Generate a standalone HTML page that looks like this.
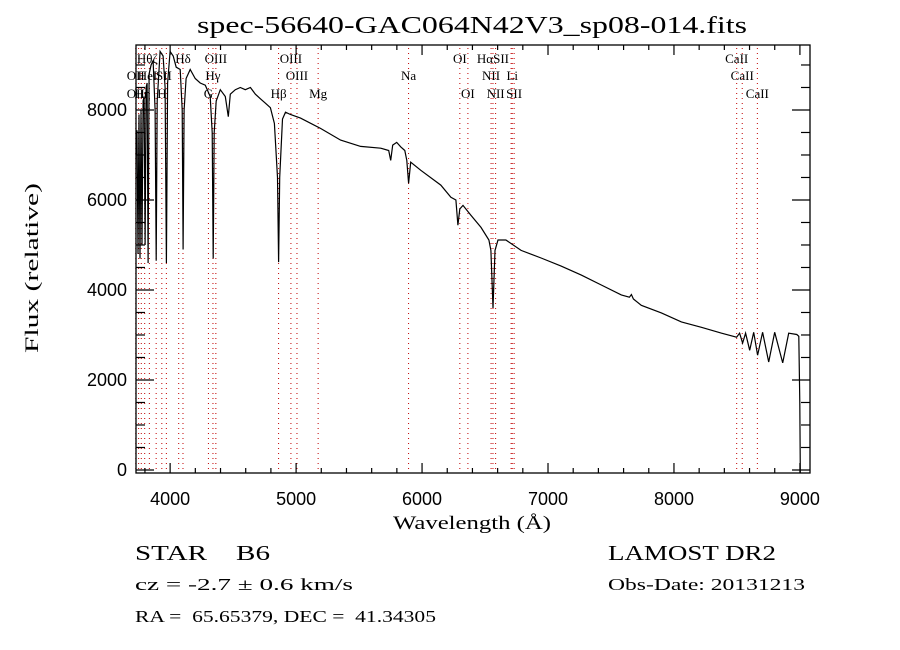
<!DOCTYPE html>
<html><head><meta charset="utf-8"><style>
html,body{margin:0;padding:0;background:#fff;}
svg{display:block;}
text{font-family:"Liberation Serif",serif;fill:#000;white-space:pre;}
.t{font-family:"Liberation Sans",sans-serif;}
</style></head><body>
<svg id="chart" width="900" height="650" viewBox="0 0 900 650" xmlns="http://www.w3.org/2000/svg" xml:space="preserve">
<rect x="0" y="0" width="900" height="650" fill="#fff"/>
<text x="472" y="33" font-size="24" text-anchor="middle" textLength="550" lengthAdjust="spacingAndGlyphs">spec-56640-GAC064N42V3_sp08-014.fits</text>
<g id="lines"></g>
<g id="ticks"></g>
<path id="spec" fill="none" stroke="#000" stroke-width="1.2"/>
<rect x="136" y="45" width="674" height="428" fill="none" stroke="#000" stroke-width="1.3"/>
<text transform="translate(38,268) rotate(-90)" font-size="19" text-anchor="middle" textLength="170" lengthAdjust="spacingAndGlyphs">Flux (relative)</text>
<text x="472" y="529" font-size="19" text-anchor="middle" textLength="158" lengthAdjust="spacingAndGlyphs">Wavelength (Å)</text>
<text x="135" y="560" font-size="21" textLength="135" lengthAdjust="spacingAndGlyphs">STAR    B6</text>
<text x="608" y="560" font-size="21" textLength="168" lengthAdjust="spacingAndGlyphs">LAMOST DR2</text>
<text x="135" y="590" font-size="17" textLength="218" lengthAdjust="spacingAndGlyphs">cz = -2.7 ± 0.6 km/s</text>
<text x="608" y="590" font-size="17" textLength="197" lengthAdjust="spacingAndGlyphs">Obs-Date: 20131213</text>
<text x="135" y="622" font-size="17" textLength="301" lengthAdjust="spacingAndGlyphs">RA =  65.65379, DEC =  41.34305</text>
</svg>
<script>
const wave = [3729,3737,3745,3753,3761,3769,3777,3785,3793,3801,3809,3817,3825,3833,3849,3865,3881,3889,3897,3920,3944,3960,3970,3980,4000,4024,4048,4080,4096,4103,4111,4127,4159,4199,4239,4279,4318,4334,4342,4350,4366,4398,4438,4462,4478,4517,4557,4597,4637,4677,4716,4756,4796,4828,4852,4861,4870,4892,4916,4955,5035,5194,5353,5512,5672,5735,5751,5767,5799,5831,5863,5879,5893,5910,5990,6149,6229,6269,6285,6300,6325,6388,6468,6531,6547,6563,6579,6603,6666,6786,6945,7104,7264,7423,7582,7646,7662,7678,7741,7900,8059,8218,8378,8497,8521,8545,8569,8601,8633,8664,8704,8752,8800,8863,8911,8975,8991,8999,9003];
const flux = [7000,7550,4800,7900,4700,8000,5000,8200,8300,5000,8500,8600,4600,8800,9000,9100,8000,4650,8200,9300,9200,8500,4600,8600,9300,9200,8950,8900,8000,4900,8000,8700,8900,8700,8600,8550,8300,7500,4700,7500,8200,8450,8300,7850,8350,8450,8500,8450,8500,8350,8250,8150,8050,7700,6500,4620,6500,7800,7950,7900,7820,7590,7330,7190,7150,7100,6880,7220,7280,7180,7100,6880,6370,6840,6660,6330,6060,6000,5440,5800,5880,5660,5390,5110,4880,3600,4880,5110,5110,4880,4710,4530,4330,4110,3890,3840,3900,3800,3660,3490,3290,3170,3040,2950,3040,2820,3040,2660,3060,2550,3060,2400,3060,2380,3040,3010,2970,1500,-60];
const lineWaves = [3727,3750,3771,3798,3835,3889,3934,3970,4068,4102,4304,4340,4363,4861,4959,5007,5175,5893,6300,6364,6548,6563,6584,6707,6716,6731,8498,8542,8662];
const labelText = ["Hθ","ζ","Hδ","OIII","OIII","OI","HαSII","CaII","OII","HeI","SII","Hγ","OIII","Na","NII","Li","CaII","OII","Hη","H","G","Hβ","Mg","OI","NII","SII","CaII"];
const labelWave = [3798,3880,4102,4363,4959,6300,6563,8498,3727,3820,3950,4340,5007,5893,6548,6716,8542,3727,3780,3935,4304,4861,5175,6364,6584,6731,8662];
const labelRow = [0,0,0,0,0,0,0,0,1,1,1,1,1,1,1,1,1,2,2,2,2,2,2,2,2,2,2];
const xTicks = [4000,5000,6000,7000,8000,9000];
const yTicks = [0,2000,4000,6000,8000];

const X0=136,X1=810,Y0=45,Y1=473;
const wMin=3729,wMax=9080,fMin=-67,fMax=9444;
const sx=w=>X0+(w-wMin)/(wMax-wMin)*(X1-X0);
const sy=f=>Y1-(f-fMin)/(fMax-fMin)*(Y1-Y0);
const NS="http://www.w3.org/2000/svg";
function mk(tag,attrs,parent){const e=document.createElementNS(NS,tag);for(const k in attrs)e.setAttribute(k,attrs[k]);parent.appendChild(e);return e;}

const lg=document.getElementById('lines');
lineWaves.forEach(w=>{
  const l=mk('line',{x1:sx(w),x2:sx(w),y1:Y0+3,y2:Y1,stroke:'#c00000','stroke-width':1,'stroke-dasharray':'1,4'},lg);
  
  
});
const rowY=[63,80,98];
labelText.forEach((t,i)=>{
  const e=mk('text',{x:sx(labelWave[i]),y:rowY[labelRow[i]],'font-size':13,'text-anchor':'middle'},lg);
  e.textContent=t;
  
  
});

let d='';
wave.forEach((w,i)=>{d+=(i?'L':'M')+sx(w).toFixed(1)+','+Math.min(Y1,Math.max(Y0,sy(flux[i]))).toFixed(1);});
document.getElementById('spec').setAttribute('d',d);

const tg=document.getElementById('ticks');
for(let w=3800;w<=9000;w+=200){
  const major=w%1000===0, L=major?10:5;
  mk('line',{x1:sx(w),x2:sx(w),y1:Y1,y2:Y1-L,stroke:'#000','stroke-width':1.2},tg);
  mk('line',{x1:sx(w),x2:sx(w),y1:Y0,y2:Y0+L,stroke:'#000','stroke-width':1.2},tg);
}
for(let f=0;f<=9000;f+=500){
  const major=f%2000===0, L=major?18:9;
  mk('line',{x1:X0,x2:X0+L,y1:sy(f),y2:sy(f),stroke:'#000','stroke-width':1.2},tg);
  mk('line',{x1:X1,x2:X1-L,y1:sy(f),y2:sy(f),stroke:'#000','stroke-width':1.2},tg);
}
xTicks.forEach(w=>{
  const e=mk('text',{x:sx(w),y:505,'font-size':18,'text-anchor':'middle',class:'t'},tg);
  e.textContent=String(w);
  
  
});
yTicks.forEach(f=>{
  const e=mk('text',{x:127,y:sy(f)+6,'font-size':18,'text-anchor':'end',class:'t'},tg);
  e.textContent=String(f);
  
  
});
</script>
</body></html>
